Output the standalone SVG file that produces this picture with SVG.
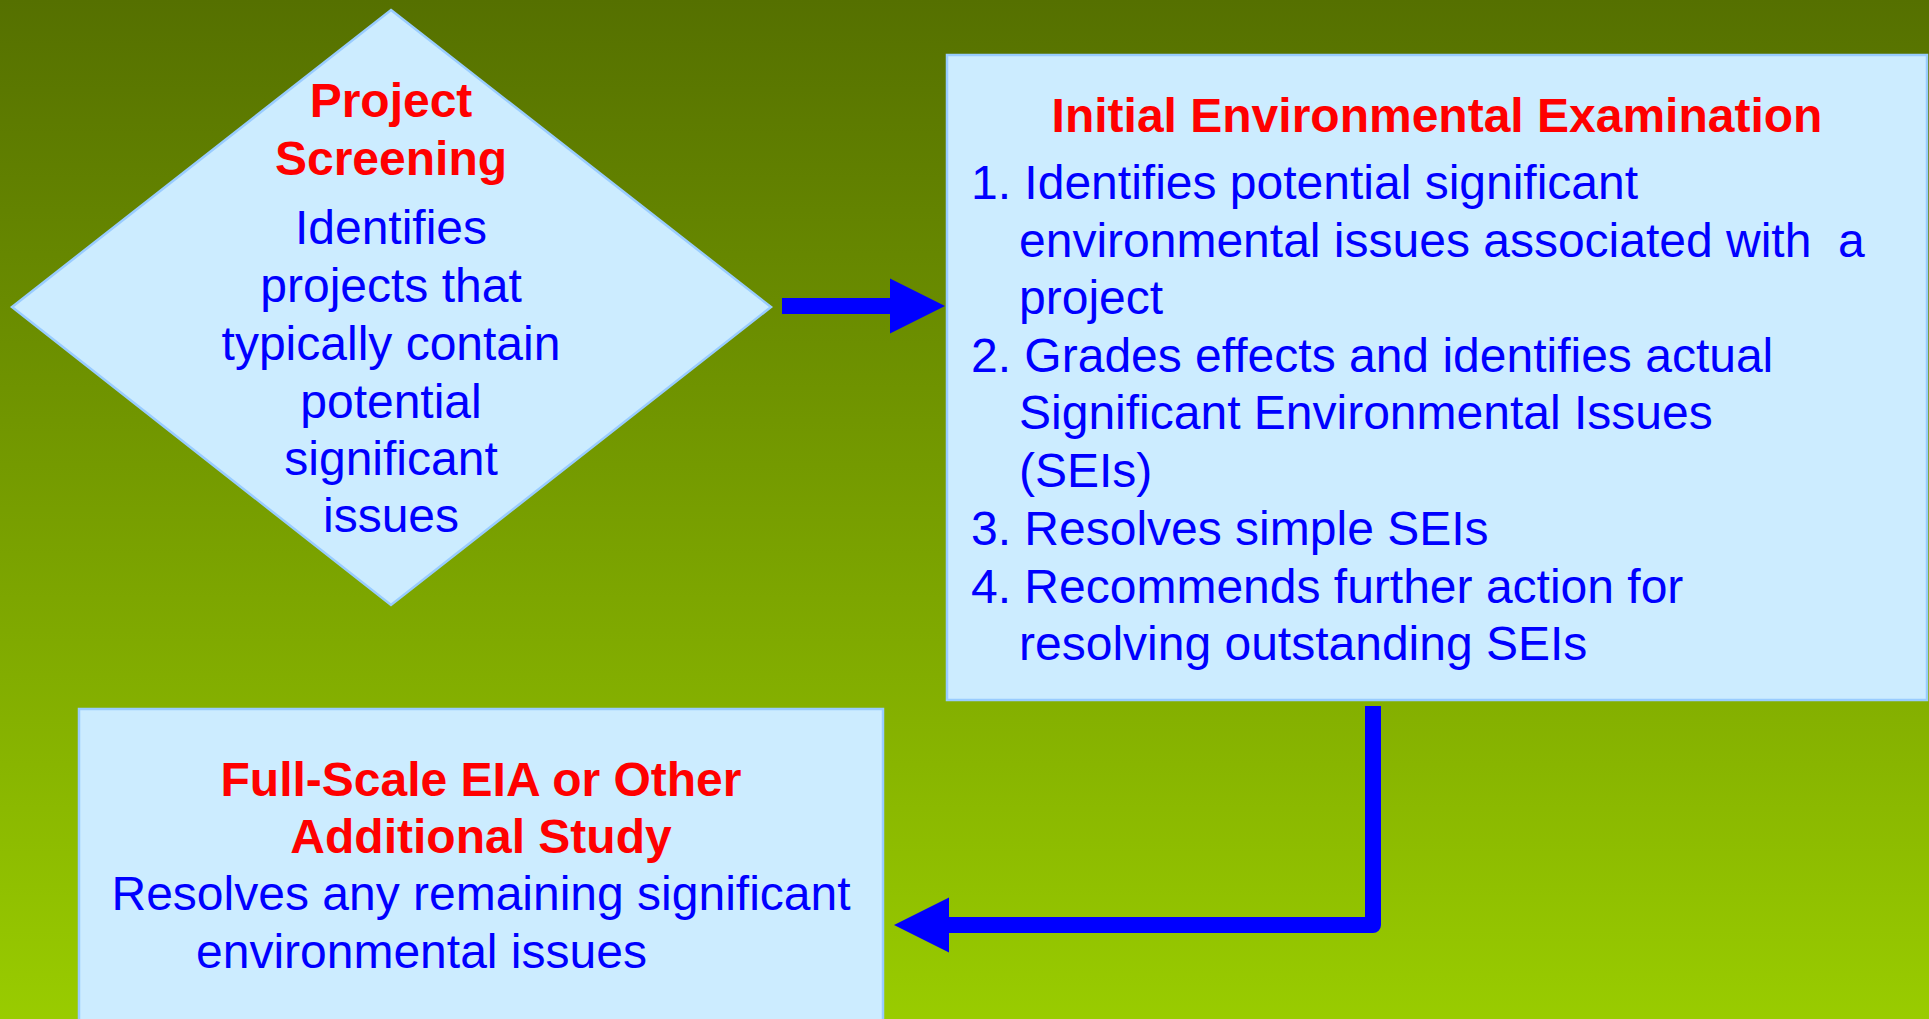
<svg xmlns="http://www.w3.org/2000/svg" width="1929" height="1019" viewBox="0 0 1929 1019">
<defs>
<linearGradient id="bg" x1="0" y1="0" x2="0" y2="1">
<stop offset="0" stop-color="#557000"/>
<stop offset="1" stop-color="#99cc00"/>
</linearGradient>
<marker id="head" markerUnits="userSpaceOnUse" markerWidth="56" markerHeight="56" refX="0" refY="27.5" orient="auto" overflow="visible">
<path d="M0,0 L55,27.5 L0,55 Z" fill="#0000ff"/>
</marker>
</defs>
<style>
.node{fill:#ccecff;stroke:#99ccff;stroke-width:2.5}
.t{font-family:"Liberation Sans",Arial,sans-serif;font-size:48px}
.title{fill:#ff0000;font-weight:bold}
.body{fill:#0000ff}
.c{text-anchor:middle}
.conn{fill:none;stroke:#0000ff;stroke-width:16;stroke-linejoin:round}
</style>
<rect x="0" y="0" width="1929" height="1019" fill="url(#bg)"/>
<g id="screening">
<polygon class="node" points="391,10 771,307 391,605 12,307"/>
<text class="t title c" x="391" y="117">Project</text>
<text class="t title c" x="391" y="175">Screening</text>
<text class="t body c" x="391" y="244">Identifies</text>
<text class="t body c" x="391" y="302">projects that</text>
<text class="t body c" x="391" y="360">typically contain</text>
<text class="t body c" x="391" y="418">potential</text>
<text class="t body c" x="391" y="475">significant</text>
<text class="t body c" x="391" y="532">issues</text>
</g>
<g id="iee">
<rect class="node" x="947" y="55" width="980" height="645"/>
<text class="t title c" x="1437" y="132">Initial Environmental Examination</text>
<text class="t body" x="971" y="199">1. Identifies potential significant</text>
<text class="t body" x="1019" y="257" xml:space="preserve">environmental issues associated with  a</text>
<text class="t body" x="1019" y="314">project</text>
<text class="t body" x="971" y="372">2. Grades effects and identifies actual</text>
<text class="t body" x="1019" y="429">Significant Environmental Issues</text>
<text class="t body" x="1019" y="487">(SEIs)</text>
<text class="t body" x="971" y="545">3. Resolves simple SEIs</text>
<text class="t body" x="971" y="603">4. Recommends further action for</text>
<text class="t body" x="1019" y="660">resolving outstanding SEIs</text>
</g>
<g id="fullscale">
<rect class="node" x="79" y="709" width="804" height="320"/>
<text class="t title c" x="481" y="796">Full-Scale EIA or Other</text>
<text class="t title c" x="481" y="853">Additional Study</text>
<text class="t body c" x="481" y="910">Resolves any remaining significant</text>
<text class="t body" x="196" y="968">environmental issues</text>
</g>
<g id="connectors">
<path class="conn" d="M782,306 L890,306" marker-end="url(#head)"/>
<path class="conn" d="M1373,706 L1373,925 L949,925" marker-end="url(#head)"/>
</g>
</svg>
